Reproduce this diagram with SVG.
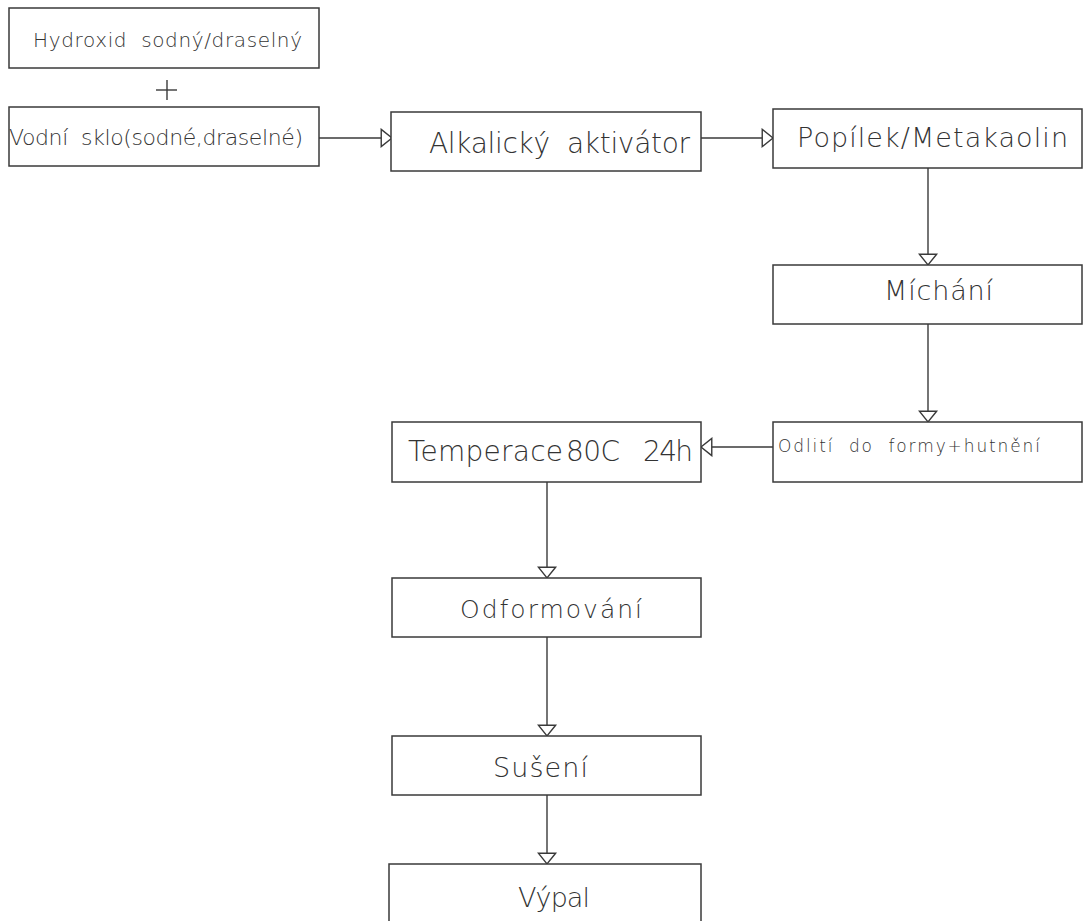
<svg xmlns="http://www.w3.org/2000/svg" width="1083" height="921" viewBox="0 0 1083 921" xml:space="preserve">
  <style>
    .box { fill: #ffffff; stroke: #3a3a3a; stroke-width: 1.5; }
    .lbl { font-family: "DejaVu Sans", "Liberation Sans", sans-serif; font-weight: 200; fill: #333333; white-space: pre; }
    .wire { fill: none; stroke: #3a3a3a; stroke-width: 1.4; marker-end: url(#head); }
  </style>
  <defs>
    <marker id="head" markerUnits="userSpaceOnUse" markerWidth="14" markerHeight="20" viewBox="-1 -9 13 18" refX="10" refY="0" orient="auto">
      <path d="M0,-8 L10,0 L0,8 Z" fill="#ffffff" stroke="#3a3a3a" stroke-width="1.3"/>
    </marker>
  </defs>
  <rect width="1083" height="921" fill="#ffffff"/>

  <g id="connectors">
    <line class="wire" x1="319" y1="138" x2="392" y2="138"/>
    <line class="wire" x1="701" y1="138" x2="773" y2="138"/>
    <line class="wire" x1="928" y1="168" x2="928" y2="265"/>
    <line class="wire" x1="928" y1="324" x2="928" y2="422"/>
    <line class="wire" x1="773" y1="447" x2="701" y2="447"/>
    <line class="wire" x1="547" y1="482" x2="547" y2="578"/>
    <line class="wire" x1="547" y1="637" x2="547" y2="736"/>
    <line class="wire" x1="547" y1="795" x2="547" y2="864"/>
  </g>

  <g id="hydroxid">
    <rect class="box" x="9" y="8" width="310" height="60"/>
    <text class="lbl" x="33" y="47" font-size="20" textLength="269" lengthAdjust="spacing">Hydroxid  sodný/draselný</text>
  </g>

  <g id="plus">
    <line x1="156" y1="90" x2="177" y2="90" stroke="#3a3a3a" stroke-width="1.4"/>
    <line x1="167" y1="80" x2="167" y2="100" stroke="#3a3a3a" stroke-width="1.4"/>
  </g>

  <g id="vodni-sklo">
    <rect class="box" x="9" y="107" width="310" height="59"/>
    <text class="lbl" x="9" y="145" font-size="22" textLength="294" lengthAdjust="spacing">Vodní  sklo(sodné,draselné)</text>
  </g>

  <g id="aktivator">
    <rect class="box" x="391" y="112" width="310" height="59"/>
    <text class="lbl" x="429" y="153" font-size="28" textLength="261" lengthAdjust="spacing">Alkalický  aktivátor</text>
  </g>

  <g id="popilek">
    <rect class="box" x="773" y="109" width="309" height="59"/>
    <text class="lbl" x="797" y="147" font-size="27" textLength="271" lengthAdjust="spacing">Popílek/Metakaolin</text>
  </g>

  <g id="michani">
    <rect class="box" x="773" y="265" width="309" height="59"/>
    <text class="lbl" x="884" y="300" font-size="27" textLength="109" lengthAdjust="spacing">Míchání</text>
  </g>

  <g id="odliti">
    <rect class="box" x="773" y="422" width="309" height="60"/>
    <text class="lbl" x="778" y="452" font-size="17" textLength="262" lengthAdjust="spacing">Odlití  do  formy+hutnění</text>
  </g>

  <g id="temperace">
    <rect class="box" x="392" y="422" width="309" height="60"/>
    <text class="lbl" y="461" font-size="28"><tspan x="408" textLength="155" lengthAdjust="spacing">Temperace</tspan><tspan x="566" textLength="54" lengthAdjust="spacing">80C</tspan><tspan x="643" textLength="50" lengthAdjust="spacing">24h</tspan></text>
  </g>

  <g id="odformovani">
    <rect class="box" x="392" y="578" width="309" height="59"/>
    <text class="lbl" x="460" y="618" font-size="25" textLength="182" lengthAdjust="spacing">Odformování</text>
  </g>

  <g id="suseni">
    <rect class="box" x="392" y="736" width="309" height="59"/>
    <text class="lbl" x="493" y="777" font-size="27" textLength="95" lengthAdjust="spacing">Sušení</text>
  </g>

  <g id="vypal">
    <rect class="box" x="389" y="864" width="312" height="70"/>
    <text class="lbl" x="518" y="907" font-size="27" textLength="72" lengthAdjust="spacing">Výpal</text>
  </g>
</svg>
